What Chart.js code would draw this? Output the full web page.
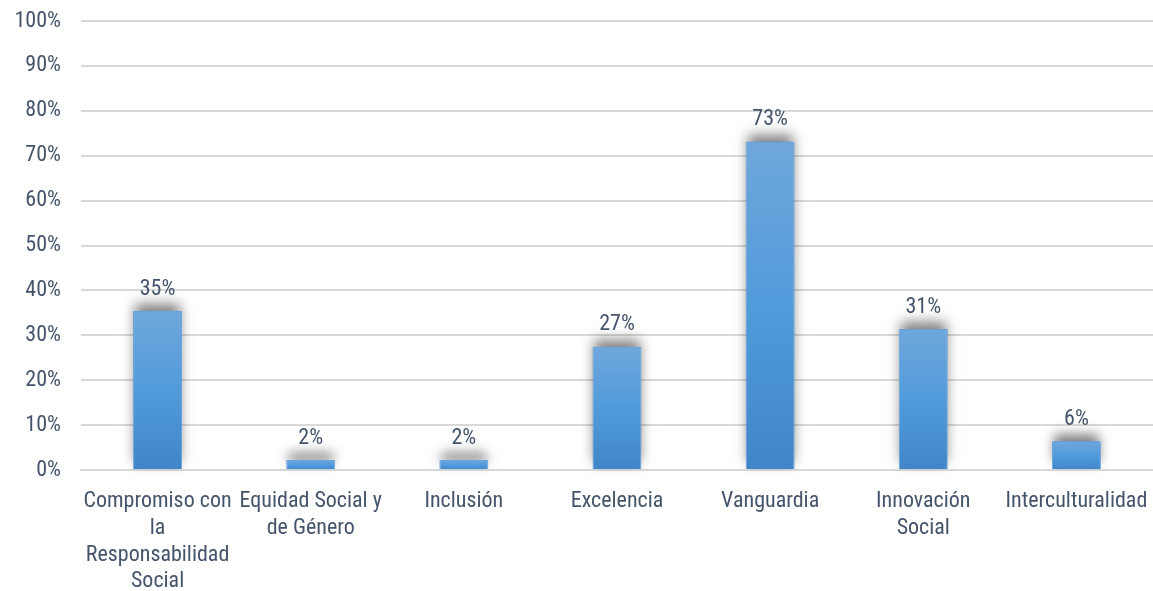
<!DOCTYPE html>
<html>
<head>
<meta charset="utf-8">
<script src="https://cdn.jsdelivr.net/npm/chart.js@4.4.1/dist/chart.umd.min.js"></script>
<style>
    html, body { margin: 0; padding: 0; background: #fff; }
    #wrap { width: 1153px; height: 591px; }
</style>
</head>
<body>
<div id="wrap"><canvas id="valoresChart"></canvas></div>
<script>
const categories = [
    ['Compromiso con', 'la', 'Responsabilidad', 'Social'],
    ['Equidad Social y', 'de Género'],
    'Inclusión',
    'Excelencia',
    'Vanguardia',
    ['Innovación', 'Social'],
    'Interculturalidad'
];
const percentages = [35.4, 2.2, 2.2, 27.4, 73.1, 31.4, 6.4];
const yTicks = [0, 10, 20, 30, 40, 50, 60, 70, 80, 90, 100];

const textColor = '#44546a';
const fontFamily = "'Liberation Sans Narrow', 'Arial Narrow', 'Roboto Condensed', 'Liberation Sans', sans-serif";

// soft grey shadow above each bar, drawn before the bars themselves
const barShadow = {
    id: 'barShadow',
    beforeDatasetsDraw(chart) {
        const ctx = chart.ctx;
        const meta = chart.getDatasetMeta(0);
        ctx.save();
        ctx.shadowColor = 'rgba(0,0,0,0.5)';
        ctx.shadowBlur = 12;
        ctx.shadowOffsetY = -7;
        ctx.fillStyle = '#5b9bd5';
        meta.data.forEach(bar => {
            const w = bar.width;
            ctx.fillRect(bar.x - w / 2 + 2, bar.y, w - 4, bar.base - bar.y);
        });
        ctx.restore();
    }
};

const valueLabels = {
    id: 'valueLabels',
    afterDatasetsDraw(chart) {
        const ctx = chart.ctx;
        const meta = chart.getDatasetMeta(0);
        ctx.save();
        ctx.fillStyle = textColor;
        ctx.font = '22px ' + fontFamily;
        ctx.textAlign = 'center';
        ctx.textBaseline = 'bottom';
        meta.data.forEach((bar, i) => {
            ctx.fillText(Math.round(percentages[i]) + '%', bar.x, bar.y - 11);
        });
        ctx.restore();
    }
};

function barGradient(context) {
    const chart = context.chart;
    if (!chart.chartArea || context.raw === undefined) return '#5b9bd5';
    const y = chart.scales.y;
    const top = y.getPixelForValue(context.raw);
    const bottom = y.getPixelForValue(0);
    const g = chart.ctx.createLinearGradient(0, top, 0, bottom);
    g.addColorStop(0, '#6fa7dc');
    g.addColorStop(0.5, '#519bdb');
    g.addColorStop(1, '#3f86c8');
    return g;
}

new Chart(document.getElementById('valoresChart'), {
    type: 'bar',
    data: {
        labels: categories,
        datasets: [{
            data: percentages,
            backgroundColor: barGradient,
            borderColor: '#6aa3da',
            borderWidth: 1,
            barPercentage: 0.32,
            categoryPercentage: 1
        }]
    },
    plugins: [barShadow, valueLabels],
    options: {
        responsive: true,
        maintainAspectRatio: false,
        animation: false,
        layout: { padding: { top: 21, right: 0, left: 0, bottom: 0 } },
        plugins: {
            legend: { display: false },
            tooltip: { enabled: false }
        },
        scales: {
            x: {
                afterFit(scale) {
                    scale.height = 121;
                    scale.paddingLeft = 0;
                    scale.paddingRight = 0;
                },
                grid: { display: false, drawTicks: false },
                border: { color: '#d9d9d9', width: 2 },
                ticks: {
                    color: textColor,
                    font: { family: fontFamily, size: 22, lineHeight: 1.22 },
                    maxRotation: 0,
                    minRotation: 0,
                    autoSkip: false,
                    padding: 18
                }
            },
            y: {
                min: 0,
                max: 100,
                afterFit(scale) {
                    scale.width = 81;
                    scale.paddingTop = 0;
                    scale.paddingBottom = 0;
                },
                afterBuildTicks(scale) { scale.ticks = yTicks.map(v => ({ value: v })); },
                grid: { color: '#d9d9d9', lineWidth: 2, drawTicks: false },
                border: { display: false },
                ticks: {
                    color: textColor,
                    font: { family: fontFamily, size: 22 },
                    padding: 20,
                    callback: v => v + '%'
                }
            }
        }
    }
});
</script>
</body>
</html>
